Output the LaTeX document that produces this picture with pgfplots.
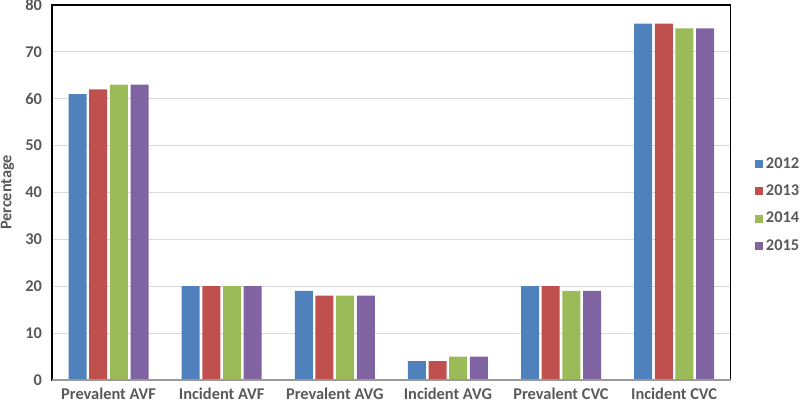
\documentclass[border=0pt]{standalone}
\usepackage{pgfplots}
\pgfplotsset{compat=1.18}
\usepackage{fontspec}
\setmainfont{Carlito}
\definecolor{c1}{HTML}{4F81BD}
\definecolor{c2}{HTML}{C0504D}
\definecolor{c3}{HTML}{9BBB59}
\definecolor{c4}{HTML}{8064A2}
\definecolor{txt}{HTML}{595959}
\definecolor{grd}{HTML}{D9D9D9}
\begin{document}
\begin{tikzpicture}
\useasboundingbox (-39pt,-19.5pt) rectangle (561pt,285pt);
\begin{axis}[
  scale only axis,
  width=509pt, height=281.25pt,
  ybar, bar width=13.5pt, bar shift auto,
  ymin=0, ymax=80, ytick={0,10,...,80},
  xmin=-0.5, xmax=5.5,
  xtick={0,1,2,3,4,5},
  xticklabels={Prevalent AVF,Incident AVF,Prevalent AVG,Incident AVG,Prevalent CVC,Incident CVC},
  major tick length=0pt,
  ymajorgrids, grid style={grd, line width=0.8pt},
  axis line style={black, line width=0.8pt},
  ticklabel style={font=\fontsize{12.3}{14}\selectfont\bfseries, text=txt},
  /pgf/number format/assume math mode=true,
  xticklabel style={yshift=-4.5pt, text depth=0pt, inner sep=1pt},
  yticklabel style={xshift=-4pt},
  ylabel={Percentage},
  ylabel style={font=\fontsize{12.2}{13}\selectfont\bfseries, text=txt, at={(rel axis cs:-0.049,0.5)}, anchor=south, rotate=0},
  legend style={draw=none, fill=none, at={(rel axis cs:1.03,0.467)}, anchor=west,
    font=\fontsize{12.3}{14}\selectfont\bfseries, text=txt, row sep=7pt,
    /tikz/every even column/.append style={column sep=2pt}},
  legend cell align=left,
  legend image code/.code={\fill[#1] (0pt,-3pt) rectangle (6pt,3pt);},
  clip=false,
]
\addplot[fill=c1, draw=none] coordinates {(0,61) (1,20) (2,19) (3,4) (4,20) (5,76)};
\addplot[fill=c2, draw=none] coordinates {(0,62) (1,20) (2,18) (3,4) (4,20) (5,76)};
\addplot[fill=c3, draw=none] coordinates {(0,63) (1,20) (2,18) (3,5) (4,19) (5,75)};
\addplot[fill=c4, draw=none] coordinates {(0,63) (1,20) (2,18) (3,5) (4,19) (5,75)};
\legend{2012,2013,2014,2015}
\draw[gray!80, line width=0.8pt] (rel axis cs:0,0) -- (rel axis cs:1,0);
\end{axis}
\end{tikzpicture}
\end{document}
